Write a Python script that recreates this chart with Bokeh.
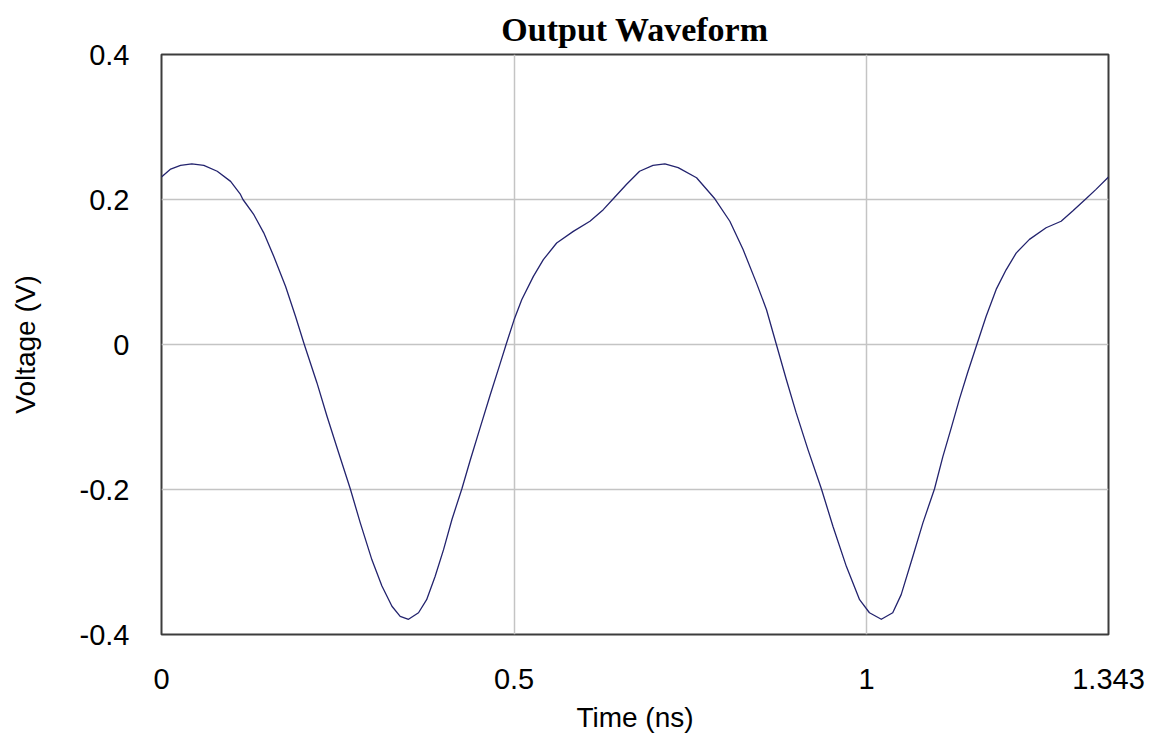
from bokeh.plotting import figure
from bokeh.models import FixedTicker, Range1d, ColumnDataSource
from bokeh.embed import file_html
from bokeh.resources import INLINE

# Data
time_ns = [0.0, 0.013, 0.027, 0.043, 0.060, 0.079, 0.098, 0.112, 0.1155, 0.131,
           0.145, 0.159, 0.176, 0.190, 0.2025, 0.2205, 0.2347, 0.2511, 0.2677, 0.2819,
           0.2984, 0.3126, 0.3268, 0.3385, 0.3503, 0.3645, 0.376, 0.388, 0.400, 0.412,
           0.426, 0.4377, 0.4518, 0.466, 0.480, 0.4887, 0.500, 0.511, 0.5274, 0.5415,
           0.5604, 0.584, 0.6076, 0.6265, 0.6407, 0.6596, 0.678, 0.697, 0.7139, 0.7327,
           0.7588, 0.7847, 0.806, 0.8248, 0.8437, 0.858, 0.872, 0.886, 0.900, 0.9168,
           0.9358, 0.9523, 0.9712, 0.990, 1.004, 1.0208, 1.037, 1.049, 1.0656, 1.0798,
           1.0963, 1.108, 1.120, 1.1317, 1.1435, 1.1563, 1.1695, 1.1837, 1.1978, 1.212,
           1.2309, 1.2545, 1.2758, 1.2922, 1.3111, 1.3253, 1.343]
voltage_v = [0.231, 0.242, 0.247, 0.249, 0.247, 0.239, 0.225, 0.207, 0.200, 0.179,
             0.154, 0.122, 0.080, 0.039, 0.0, -0.053, -0.099, -0.149, -0.199, -0.246,
             -0.297, -0.333, -0.361, -0.375, -0.379, -0.370, -0.352, -0.320, -0.283, -0.241,
             -0.199, -0.160, -0.115, -0.070, -0.027, 0.0, 0.034, 0.062, 0.094, 0.117,
             0.140, 0.156, 0.170, 0.186, 0.201, 0.221, 0.239, 0.247, 0.249, 0.244,
             0.230, 0.201, 0.170, 0.131, 0.085, 0.048, 0.0, -0.048, -0.094, -0.145,
             -0.199, -0.251, -0.306, -0.352, -0.370, -0.379, -0.370, -0.345, -0.292, -0.246,
             -0.199, -0.155, -0.115, -0.075, -0.038, 0.0, 0.039, 0.076, 0.103, 0.126,
             0.145, 0.161, 0.170, 0.184, 0.201, 0.214, 0.231]

x_ticks = [0, 0.5, 1, 1.343]
x_tick_labels = ["0", "0.5", "1", "1.343"]
y_ticks = [-0.4, -0.2, 0, 0.2, 0.4]
y_tick_labels = ["-0.4", "-0.2", "0", "0.2", "0.4"]
x_grid = [0.5, 1]
y_grid = [-0.2, 0, 0.2]

src = ColumnDataSource(data=dict(t=time_ns, v=voltage_v))

p = figure(width=1154, height=740, output_backend="svg", toolbar_location=None,
           x_range=Range1d(0, 1.343), y_range=Range1d(-0.4, 0.4),
           title="Output Waveform",
           min_border_left=161, min_border_right=46, min_border_top=54, min_border_bottom=106)

p.line("t", "v", source=src, line_color="#23236e", line_width=1.3, line_join="round")

p.title.align = "center"
p.title.text_font = "Liberation Serif"
p.title.text_font_style = "bold"
p.title.text_font_size = "34px"
p.title.text_color = "#000000"
p.title.standoff = 14

for ax in (p.xaxis[0], p.yaxis[0]):
    ax.axis_line_color = None
    ax.major_tick_line_color = None
    ax.minor_tick_line_color = None
    ax.major_label_text_font = "Liberation Sans"
    ax.major_label_text_font_size = "29px"
    ax.major_label_text_color = "#000000"
    ax.axis_label_text_font = "Liberation Sans"
    ax.axis_label_text_font_size = "28px"
    ax.axis_label_text_font_style = "normal"
    ax.axis_label_text_color = "#000000"

p.xaxis.ticker = FixedTicker(ticks=x_ticks)
p.xaxis.major_label_overrides = {k: v for k, v in zip(x_ticks, x_tick_labels)}
p.xaxis.axis_label = "Time (ns)"
p.xaxis.major_label_standoff = 28
p.xaxis.axis_label_standoff = 10

p.yaxis.ticker = FixedTicker(ticks=y_ticks)
p.yaxis.major_label_overrides = {k: v for k, v in zip(y_ticks, y_tick_labels)}
p.yaxis.axis_label = "Voltage (V)"
p.yaxis.major_label_standoff = 26
p.yaxis.axis_label_standoff = 36

p.xgrid.ticker = FixedTicker(ticks=x_grid)
p.ygrid.ticker = FixedTicker(ticks=y_grid)
p.grid.grid_line_color = "#c4c4c4"
p.grid.grid_line_width = 1.5

p.outline_line_color = "#3c3c3c"
p.outline_line_width = 2
p.outline_line_alpha = 1
p.background_fill_color = "white"
p.border_fill_color = "white"

open("out.html", "w").write(file_html(p, INLINE))
